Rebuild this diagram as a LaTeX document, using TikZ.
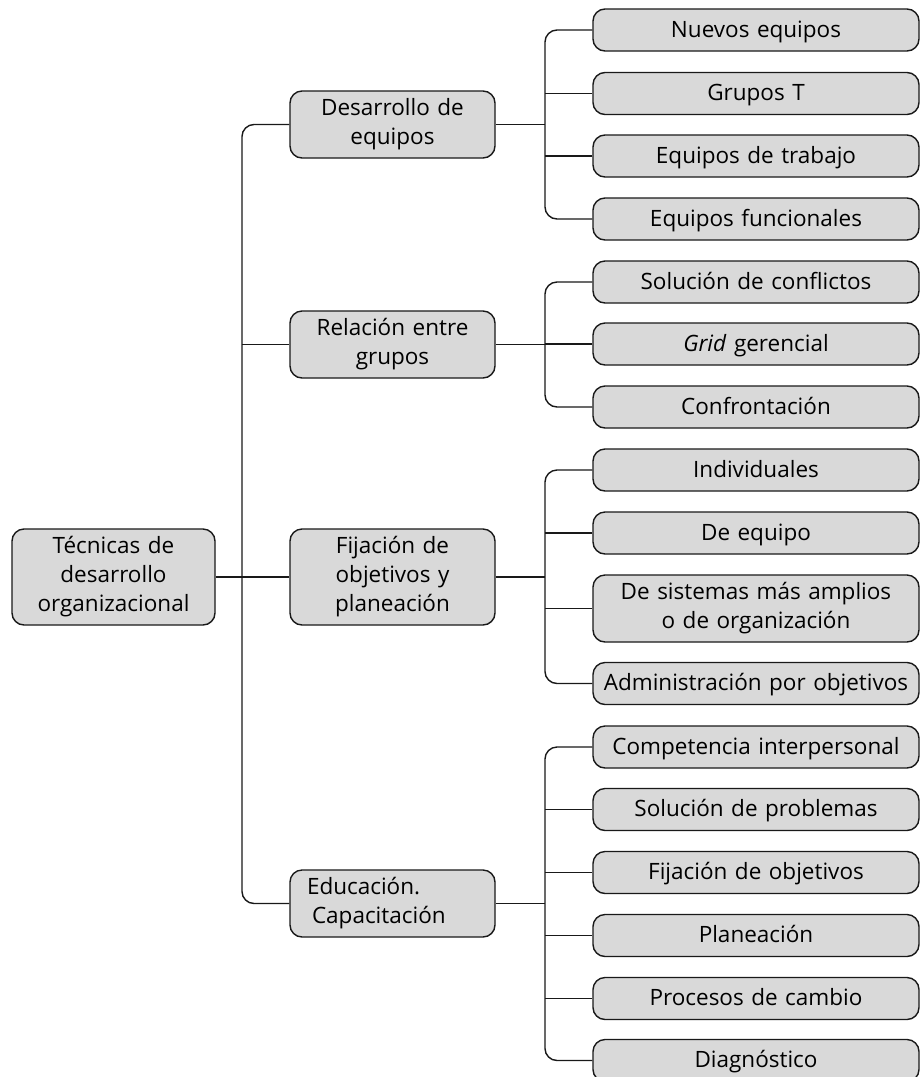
\documentclass[tikz,border=0pt]{standalone}
\usepackage{fontspec}
\setmainfont{Open Sans}
\begin{document}
\begin{tikzpicture}[x=1pt,y=-1pt,
  box/.style={draw=black!90, fill=boxgray, line width=1.4pt, rounded corners=12pt,
    inner sep=2pt, align=center, font=\fontsize{22.5}{29}\selectfont},
  mid/.style={box, minimum width=205pt, text width=195pt},
  leafbase/.style={box, minimum width=326pt, minimum height=42pt, text width=316pt},
  leaf/.style={leafbase, text height=17pt, text depth=3pt},
  link/.style={line width=1.4pt, draw=black!90},
  elbow/.style={link, rounded corners=12pt}]
\definecolor{boxgray}{HTML}{D9D9D9}
\useasboundingbox (0,0) rectangle (920,1077);
\clip (0,0) rectangle (920,1077);

% root
\node[box, minimum width=203pt, minimum height=96pt, text width=193pt] (root) at (113.5,577)
  {Técnicas de\\desarrollo\\organizacional};

% middle level
\node[mid, minimum height=67pt] (des) at (392.5,124.5) {Desarrollo de\\equipos};
\node[mid, minimum height=67pt] (rel) at (392.5,344.5) {Relación entre\\grupos};
\node[mid, minimum height=96pt] (fij) at (392.5,577) {Fijación de\\objetivos y\\planeación};
\node[mid, minimum height=67pt, align=left] (edu) at (392.5,903.5) {\hspace*{12pt}Educación.\\\hspace*{17pt}Capacitación};

% leaves
\node[leaf] (a1) at (756,30) {Nuevos equipos};
\node[leaf] (a2) at (756,93.5) {Grupos T};
\node[leaf] (a3) at (756,156) {Equipos de trabajo};
\node[leaf] (a4) at (756,219) {Equipos funcionales};

\node[leaf] (b1) at (756,282) {Solución de conflictos};
\node[leaf] (b2) at (756,344) {\textit{Grid} gerencial};
\node[leaf] (b3) at (756,407) {Confrontación};

\node[leaf] (c1) at (756,470) {Individuales};
\node[leaf] (c2) at (756,533) {De equipo};
\node[leafbase, minimum height=67pt] (c3) at (756,608.5) {De sistemas más amplios\\o de organización};
\node[leaf] (c4) at (756,683.5) {Administración por objetivos};

\node[leaf] (d1) at (756,747) {Competencia interpersonal};
\node[leaf] (d2) at (756,809.5) {Solución de problemas};
\node[leaf] (d3) at (756,872.5) {Fijación de objetivos};
\node[leaf] (d4) at (756,935.5) {Planeación};
\node[leaf] (d5) at (756,998.5) {Procesos de cambio};
\node[leaf] (d6) at (756,1060.5) {Diagnóstico};

% trunk coordinates
\coordinate (tk) at (242,0);
\coordinate (sk) at (545,0);

% main trunk
\draw[link] (root.east) -- (fij.west);
\draw[elbow] (des.west) -| (tk |- edu.west) -- (edu.west);
\draw[link] (rel.west) -- (rel.west -| tk);

% group A
\draw[link] (des.east) -- (des.east -| sk);
\draw[elbow] (a1.west) -| (sk |- a4.west) -- (a4.west);
\draw[link] (a2.west) -- (a2.west -| sk);
\draw[link] (a3.west) -- (a3.west -| sk);

% group B
\draw[link] (rel.east) -- (rel.east -| sk);
\draw[elbow] (b1.west) -| (sk |- b3.west) -- (b3.west);
\draw[link] (b2.west) -- (b2.west -| sk);

% group C
\draw[link] (fij.east) -- (fij.east -| sk);
\draw[elbow] (c1.west) -| (sk |- c4.west) -- (c4.west);
\draw[link] (c2.west) -- (c2.west -| sk);
\draw[link] (c3.west) -- (c3.west -| sk);

% group D
\draw[link] (edu.east) -- (edu.east -| sk);
\draw[elbow] (d1.west) -| (sk |- d6.west) -- (d6.west);
\draw[link] (d2.west) -- (d2.west -| sk);
\draw[link] (d3.west) -- (d3.west -| sk);
\draw[link] (d4.west) -- (d4.west -| sk);
\draw[link] (d5.west) -- (d5.west -| sk);
\end{tikzpicture}
\end{document}
